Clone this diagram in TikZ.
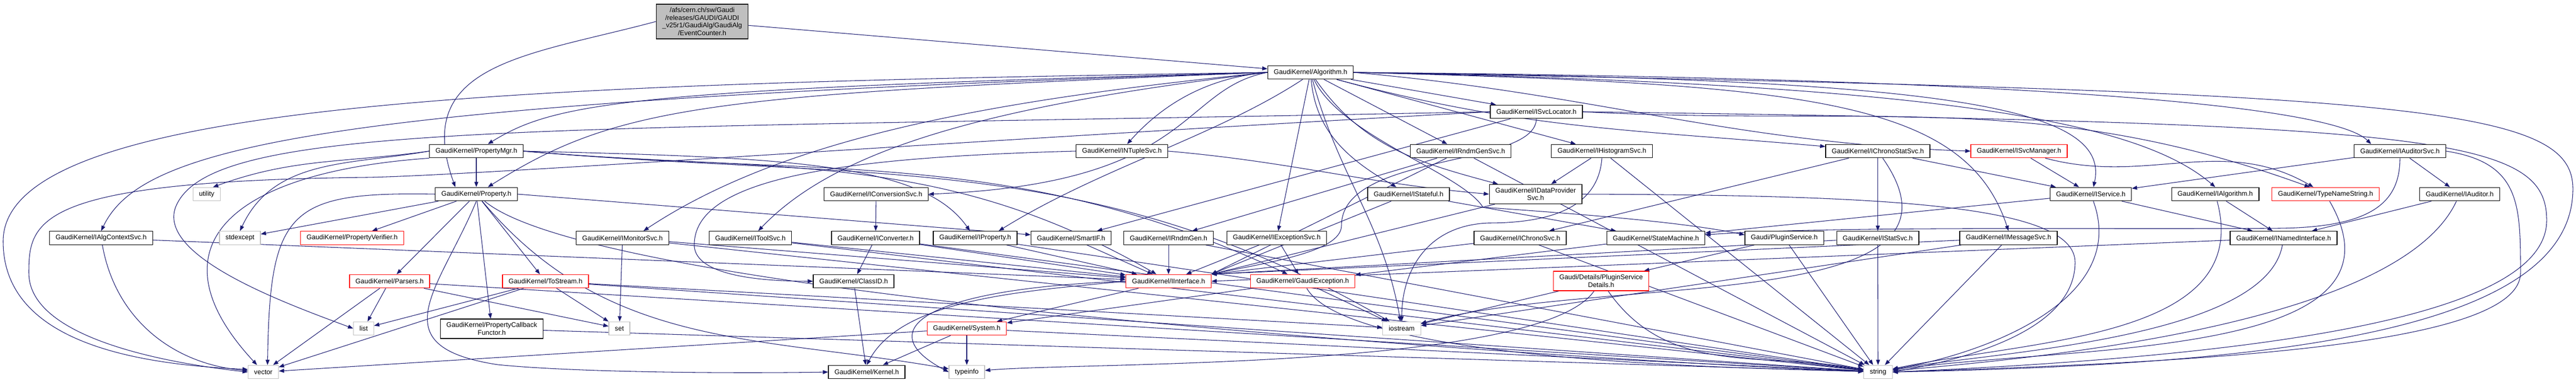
\documentclass[tikz,border=0pt]{standalone}
\usepackage{fontspec}
\setmainfont{Liberation Sans}
\usetikzlibrary{arrows.meta,backgrounds}
\definecolor{edgeblue}{RGB}{25,25,112}
\definecolor{sysgray}{RGB}{191,191,191}
\begin{document}
\begin{tikzpicture}[
		font=\fontsize{3.66pt}{4.1pt}\selectfont,
		hdr/.style={draw=black, fill=white, line width=0.35pt, inner xsep=0.115cm, inner ysep=1.9pt, minimum height=0.256cm, align=center},
		redhdr/.style={hdr, draw=red},
		syshdr/.style={hdr, draw=sysgray},
		dep/.style={draw=edgeblue, line width=0.3pt, -{Triangle[length=0.1cm,width=0.075cm]}}
	]
		\useasboundingbox (0,0) rectangle (49.16,-7.28);

		% the file itself
		\node[hdr, fill=sysgray] (top) at (13.40,-0.41) {/afs/cern.ch/sw/Gaudi\\/releases/GAUDI/GAUDI\\\_v25r1/GaudiAlg/GaudiAlg\\/EventCounter.h};

		% first levels
		\node[hdr] (alg) at (25.01,-1.38) {GaudiKernel/Algorithm.h};
		\node[hdr] (svcloc) at (29.32,-2.13) {GaudiKernel/ISvcLocator.h};
		\node[hdr] (propmgr) at (9.09,-2.88) {GaudiKernel/PropertyMgr.h};
		\node[hdr] (ntuple) at (21.41,-2.88) {GaudiKernel/INTupleSvc.h};
		\node[hdr] (rndmsvc) at (27.875,-2.88) {GaudiKernel/IRndmGenSvc.h};
		\node[hdr] (histo) at (30.57,-2.88) {GaudiKernel/IHistogramSvc.h};
		\node[hdr] (chronostat) at (35.835,-2.88) {GaudiKernel/IChronoStatSvc.h};
		\node[redhdr] (svcmgr) at (38.53,-2.88) {GaudiKernel/ISvcManager.h};
		\node[hdr] (auditorsvc) at (45.80,-2.88) {GaudiKernel/IAuditorSvc.h};

		\node[syshdr] (utility) at (3.945,-3.70) {utility};
		\node[hdr] (prop) at (9.09,-3.70) {GaudiKernel/Property.h};
		\node[hdr] (convsvc) at (16.72,-3.70) {GaudiKernel/IConversionSvc.h};
		\node[hdr] (stateful) at (26.88,-3.70) {GaudiKernel/IStateful.h};
		\node[hdr] (dataprov) at (29.305,-3.70) {GaudiKernel/IDataProvider\\Svc.h};
		\node[hdr] (service) at (39.90,-3.70) {GaudiKernel/IService.h};
		\node[hdr] (ialg) at (42.275,-3.70) {GaudiKernel/IAlgorithm.h};
		\node[redhdr] (typename) at (44.38,-3.70) {GaudiKernel/TypeNameString.h};
		\node[hdr] (auditor) at (46.94,-3.70) {GaudiKernel/IAuditor.h};

		% middle row
		\node[hdr] (algctx) at (1.93,-4.535) {GaudiKernel/IAlgContextSvc.h};
		\node[syshdr] (stdexcept) at (4.58,-4.535) {stdexcept};
		\node[redhdr] (verifier) at (6.72,-4.535) {GaudiKernel/PropertyVerifier.h};
		\node[hdr] (monitor) at (11.88,-4.535) {GaudiKernel/IMonitorSvc.h};
		\node[hdr] (toolsvc) at (14.32,-4.535) {GaudiKernel/IToolSvc.h};
		\node[hdr] (converter) at (16.71,-4.535) {GaudiKernel/IConverter.h};
		\node[hdr] (iprop) at (18.61,-4.535) {GaudiKernel/IProperty.h};
		\node[hdr] (smartif) at (20.44,-4.535) {GaudiKernel/SmartIF.h};
		\node[hdr] (rndmgen) at (22.30,-4.535) {GaudiKernel/IRndmGen.h};
		\node[hdr] (excsvc) at (24.365,-4.535) {GaudiKernel/IExceptionSvc.h};
		\node[hdr] (chrono) at (29.01,-4.535) {GaudiKernel/IChronoSvc.h};
		\node[hdr] (statemach) at (31.60,-4.535) {GaudiKernel/StateMachine.h};
		\node[hdr] (plugin) at (34.05,-4.535) {Gaudi/PluginService.h};
		\node[hdr] (stat) at (35.835,-4.535) {GaudiKernel/IStatSvc.h};
		\node[hdr] (msgsvc) at (38.33,-4.535) {GaudiKernel/IMessageSvc.h};
		\node[hdr] (named) at (43.58,-4.535) {GaudiKernel/INamedInterface.h};

		% lower rows
		\node[redhdr] (parsers) at (7.435,-5.36) {GaudiKernel/Parsers.h};
		\node[redhdr] (tostream) at (10.41,-5.36) {GaudiKernel/ToStream.h};
		\node[hdr] (classid) at (16.29,-5.36) {GaudiKernel/ClassID.h};
		\node[redhdr] (iface) at (22.30,-5.36) {GaudiKernel/IInterface.h};
		\node[redhdr] (gexc) at (24.86,-5.36) {GaudiKernel/GaudiException.h};
		\node[redhdr] (details) at (30.555,-5.355) {Gaudi/Details/PluginService\\Details.h};

		\node[syshdr] (list) at (6.94,-6.26) {list};
		\node[hdr] (callback) at (9.385,-6.265) {GaudiKernel/PropertyCallback\\Functor.h};
		\node[syshdr] (set) at (11.82,-6.26) {set};
		\node[redhdr] (system) at (18.45,-6.26) {GaudiKernel/System.h};
		\node[syshdr] (iostream) at (26.75,-6.26) {iostream};

		\node[syshdr] (vector) at (5.025,-7.09) {vector};
		\node[hdr] (kernel) at (16.54,-7.09) {GaudiKernel/Kernel.h};
		\node[syshdr] (typeinfo) at (18.45,-7.09) {typeinfo};
		\node[syshdr] (string) at (35.84,-7.09) {string};

		\begin{pgfonlayer}{background}
		% includes of the file itself
		\draw[dep] (top) -- (alg);
		\draw[dep] (top.west) to[out=195,in=110,looseness=1.3] ([xshift=-0.4cm]prop.north);

		% includes of Algorithm.h
		\draw[dep] (alg.west) .. controls (10,-1.6) and (0.06,-1.9) .. (0.06,-4.6) .. controls (0.06,-6.6) and (2.8,-6.95) .. ([yshift=0.05cm]vector.west);
		\draw[dep] (alg.west) .. controls (6,-1.95) and (2.7,-2.8) .. (algctx.north);
		\draw[dep] (alg.west) .. controls (12,-1.7) and (10.6,-1.95) .. ([xshift=0.22cm]propmgr.north);
		\draw[dep] (alg.west) .. controls (13.5,-1.8) and (11.8,-2.0) .. ([xshift=0.22cm]prop.north);
		\draw[dep] (alg.west) .. controls (19,-1.9) and (15,-2.6) .. ([xshift=0.4cm]monitor.north);
		\draw[dep] (alg.west) .. controls (19,-2.0) and (16,-2.8) .. ([xshift=0.15cm]toolsvc.north);
		\draw[dep] (alg.west) .. controls (22.5,-1.7) and (22.8,-3.5) .. (convsvc.east);
		\draw[dep] ([xshift=-0.15cm]alg.south) .. controls (23.2,-2.6) and (21.0,-3.2) .. ([xshift=0.45cm]iprop.north);
		\draw[dep] (alg.west) .. controls (22.8,-1.5) and (22.0,-2.2) .. ([xshift=0.1cm]ntuple.north);
		\draw[dep] (alg) -- (rndmsvc);
		\draw[dep] (alg) -- (svcloc);
		\draw[dep] (alg) -- (histo);
		\draw[dep] (alg) -- (excsvc);
		\draw[dep] (alg) to[out=-85,in=150] (stateful);
		\draw[dep] (alg) to[out=-55,in=165] (dataprov);
		\draw[dep] (alg) to[out=-75,in=100] (iostream);
		\draw[dep] (alg) to[out=-15,in=175] (chronostat);
		\draw[dep] (alg.east) to[out=-5,in=178] (svcmgr.west);
		\draw[dep] (alg) .. controls (25.6,-2.6) and (27.9,-3.3) .. (28.3,-3.95) .. controls (30.5,-4.1) and (32.2,-4.25) .. ([yshift=0.06cm]plugin.west);
		\draw[dep] (alg.east) .. controls (34.5,-1.6) and (37.5,-1.9) .. (msgsvc.north);
		\draw[dep] (alg.east) .. controls (37,-1.5) and (40.3,-2.0) .. ([xshift=0.05cm]service.north);
		\draw[dep] (alg.east) .. controls (37,-1.6) and (40.8,-2.3) .. (ialg.north);
		\draw[dep] (alg.east) .. controls (40,-1.5) and (44.6,-2.1) .. ([xshift=-0.55cm]auditorsvc.north);
		\draw[dep] (alg.east) .. controls (46,-1.75) and (49.1,-2.0) .. (49.1,-3.6) .. controls (49.1,-6.4) and (43,-6.95) .. (string.east);

		% includes of ISvcLocator.h
		\draw[dep] (svcloc.west) .. controls (10,-2.5) and (4.0,-2.3) .. (3.35,-3.95) .. controls (3.0,-4.9) and (5.5,-5.8) .. (list.west);
		\draw[dep] (svcloc.west) .. controls (18,-2.7) and (9,-3.35) .. (7.0,-3.38) .. controls (0.68,-3.45) and (0.55,-4.2) .. (0.55,-5.2) .. controls (0.55,-6.4) and (3.0,-6.9) .. (vector.west);
		\draw[dep] (svcloc) -- (smartif);
		\draw[dep] (svcloc.south) .. controls (29.3,-3.2) and (25.6,-2.9) .. (25.6,-4.3) .. controls (25.6,-4.8) and (24.2,-5.0) .. (iface.north east);
		\draw[dep] (svcloc.east) to[out=-3,in=160] ([xshift=-0.3cm]typename.north);
		\draw[dep] (svcloc.east) .. controls (46.5,-2.35) and (48.6,-2.6) .. (48.6,-4.2) .. controls (48.6,-5.9) and (44,-6.75) .. (string.east);

		% includes of PropertyMgr.h
		\draw[dep] (propmgr.west) to[out=188,in=20] ([xshift=0.12cm]utility.north);
		\draw[dep] (propmgr.west) to[out=190,in=65] (stdexcept.north);
		\draw[dep] (propmgr.south west) .. controls (4.2,-3.3) and (2.9,-4.8) .. ([xshift=-0.12cm]vector.north);
		\draw[dep] (propmgr) -- (prop);
		\draw[dep] (propmgr.east) .. controls (15,-3.0) and (17.6,-3.1) .. ([xshift=-0.1cm]iprop.north);
		\draw[dep] (propmgr.east) to[out=-5,in=150] (iface);
		\draw[dep] (propmgr.east) to[out=-5,in=155] (gexc);
		\draw[dep] (propmgr.east) to[out=-5,in=150] (iostream);

		% includes of Property.h
		\draw[dep] (prop) -- (stdexcept);
		\draw[dep] (prop) -- (verifier);
		\draw[dep] (prop) -- (parsers);
		\draw[dep] (prop) -- (tostream);
		\draw[dep] (prop) -- (callback);
		\draw[dep] (prop.west) .. controls (5.5,-3.65) and (5.15,-4.0) .. ([xshift=0.08cm]vector.north);
		\draw[dep] (prop.south) .. controls (8.4,-5.5) and (7.2,-6.6) .. (9.5,-6.95) .. controls (11,-7.1) and (14,-7.12) .. (kernel.west);
		\draw[dep] (prop.east) -- (smartif);
		\draw[dep] (prop) to[out=-50,in=170] (typeinfo);
		\draw[dep] (prop) to[out=-40,in=178,looseness=0.3] (string);

		% parsers, streams and callbacks
		\draw[dep] (parsers) -- (list);
		\draw[dep] (parsers) -- (vector);
		\draw[dep] (parsers) -- (set);
		\draw[dep] (parsers) -- (string);
		\draw[dep] (tostream) -- (list);
		\draw[dep] (tostream) -- (vector);
		\draw[dep] (tostream) -- (set);
		\draw[dep] (tostream) -- (iostream);
		\draw[dep] (tostream) -- (string);
		\draw[dep] (callback) -- (string);

		% interfaces of the middle row
		\draw[dep] (algctx) to[out=-80,in=175] (vector);
		\draw[dep] (algctx) -- (iface);
		\draw[dep] (monitor) -- (set);
		\draw[dep] (monitor) -- (iface);
		\draw[dep] (monitor) -- (string);
		\draw[dep] (toolsvc) -- (iface);
		\draw[dep] (toolsvc) -- (string);
		\draw[dep] (convsvc) -- (converter);
		\draw[dep] (converter) -- (classid);
		\draw[dep] (converter) -- (iface);
		\draw[dep] (converter) -- (string);
		\draw[dep] (classid) -- (kernel);
		\draw[dep] (iprop) -- (iface);
		\draw[dep] (iprop) -- (string);
		\draw[dep] (smartif) -- (iface);
		\draw[dep] (rndmgen) -- (iface);
		\draw[dep] (rndmgen) -- (string);
		\draw[dep] (excsvc) -- (gexc);
		\draw[dep] (excsvc) -- (iface);

		% base headers
		\draw[dep] (iface) -- (system);
		\draw[dep] (iface.west) .. controls (19.5,-5.55) and (17.2,-5.7) .. (kernel.north);
		\draw[dep] (iface.west) .. controls (17.6,-5.5) and (16.6,-6.3) .. (typeinfo.west);
		\draw[dep] (system) -- (kernel);
		\draw[dep] (system) -- (typeinfo);
		\draw[dep] (system) -- (vector);
		\draw[dep] (system) -- (string);
		\draw[dep] (gexc) -- (system);
		\draw[dep] (gexc) -- (iostream);
		\draw[dep] (gexc) to[out=-60,in=178,looseness=0.4] (string);

		% service interfaces
		\draw[dep] (stateful) -- (iface.north east);
		\draw[dep] (stateful) -- (statemach);
		\draw[dep] (statemach) -- (gexc);
		\draw[dep] (dataprov) -- (iface.north east);
		\draw[dep] (dataprov.east) .. controls (36,-3.72) and (39.6,-3.9) .. (39.6,-5.0) .. controls (39.6,-6.3) and (37.5,-6.85) .. (string.east);
		\draw[dep] (rndmsvc) -- (rndmgen);
		\draw[dep] (rndmsvc) -- (iface.north east);
		\draw[dep] (rndmsvc) -- (string);
		\draw[dep] (histo) -- (dataprov);
		\draw[dep] (histo.south) .. controls (30.5,-4.0) and (29.5,-4.25) .. (28.4,-4.25) .. controls (27.2,-4.3) and (26.75,-5.2) .. (iostream.north);
		\draw[dep] (histo) -- (string);
		\draw[dep] (ntuple.east) to[out=-5,in=175] (dataprov.west);
		\draw[dep] (ntuple.west) .. controls (16,-3.0) and (13.2,-3.4) .. (13.25,-4.7) .. controls (13.3,-5.25) and (14.5,-5.36) .. (classid.west);
		\draw[dep] (chrono) -- (iface.north east);
		\draw[dep] (chrono) -- (string);
		\draw[dep] (chronostat) -- (chrono);
		\draw[dep] (chronostat) -- (stat);
		\draw[dep] (chronostat) -- (service);
		\draw[dep] (chronostat) to[out=-55,in=15] (iostream);
		\draw[dep] (stat) -- (iface.north east);
		\draw[dep] (stat) -- (string);
		\draw[dep] (msgsvc) -- (iface.north east);
		\draw[dep] (msgsvc) -- (iostream);
		\draw[dep] (msgsvc) -- (string);
		\draw[dep] (plugin) -- (details);
		\draw[dep] (plugin) -- (string);
		\draw[dep] (details) -- (iostream);
		\draw[dep] (details) to[out=-125,in=5,looseness=0.4] (typeinfo);
		\draw[dep] (details) to[out=-55,in=170] (string);
		\draw[dep] (svcmgr) -- (service);
		\draw[dep] (svcmgr) to[out=-15,in=150] (typename);
		\draw[dep] (service) -- (named);
		\draw[dep] (service) -- (statemach);
		\draw[dep] (service) to[out=-70,in=10] (string);
		\draw[dep] (ialg) -- (named);
		\draw[dep] (ialg) to[out=-75,in=12] (string);
		\draw[dep] (typename) to[out=-60,in=8] (string);
		\draw[dep] (auditorsvc) -- (service);
		\draw[dep] (auditorsvc) -- (auditor);
		\draw[dep] (auditorsvc.south) .. controls (45.8,-3.9) and (45.2,-4.33) .. (43.5,-4.35) .. controls (40,-4.38) and (35,-4.3) .. ([yshift=0.06cm]statemach.east);
		\draw[dep] (auditorsvc.east) .. controls (48.1,-3.1) and (48.1,-3.9) .. (48.1,-5.2) .. controls (48.1,-6.6) and (42,-6.9) .. (string.east);
		\draw[dep] (auditor) -- (named);
		\draw[dep] (auditor) to[out=-115,in=5,looseness=0.6] (string);
		\draw[dep] (named) -- (iface.east);
		\draw[dep] (named) to[out=-100,in=10,looseness=0.6] (string);
		\end{pgfonlayer}
	\end{tikzpicture}
\end{document}
